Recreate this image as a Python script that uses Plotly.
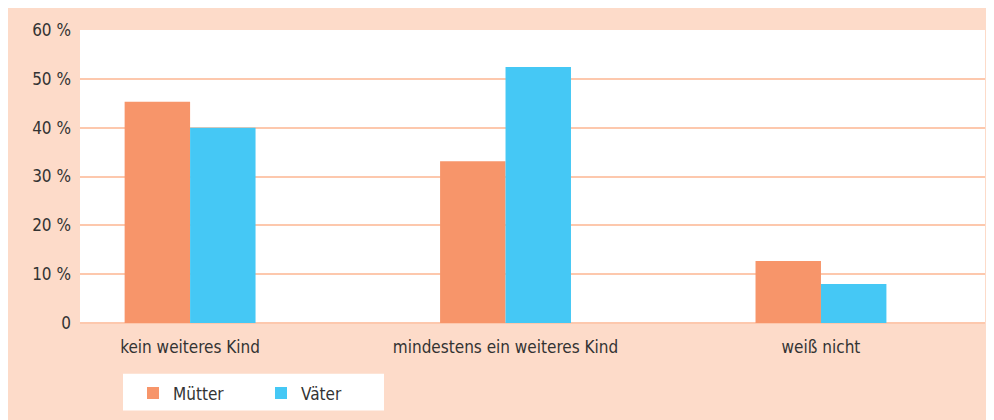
import plotly.graph_objects as go

categories = ["kein weiteres Kind", "mindestens ein weiteres Kind", "weiß nicht"]
muetter = [45.3, 33.1, 12.7]
vaeter = [40.0, 52.4, 8.0]
tick_vals = [0, 10, 20, 30, 40, 50, 60]
tick_text = ["0", "10 %", "20 %", "30 %", "40 %", "50 %", "60 %"]

W, Hh = 986, 412
L, R, T, B = 72, 9, 22, 95
PW = W - L - R
PH = Hh - T - B

def px(x):
    return (x - L) / PW

def py(y):
    return (Hh - B - y) / PH

FONT = "Liberation Sans Narrow, DejaVu Sans Condensed, Roboto, sans-serif"
TXT = "#333333"
PEACH = "#fddbc9"
GRID = "#fdc8ad"

fig = go.Figure()
fig.add_trace(go.Bar(name="Mütter", x=[0, 1, 2], y=muetter, marker_color="#f7956a",
                     marker_line_width=0))
fig.add_trace(go.Bar(name="Väter", x=[0, 1, 2], y=vaeter, marker_color="#45c8f5",
                     marker_line_width=0))

fig.update_layout(
    width=W, height=Hh,
    margin=dict(l=L, r=R, t=T, b=B),
    paper_bgcolor=PEACH,
    plot_bgcolor="white",
    barmode="group",
    bargap=0.585,
    bargroupgap=0,
    font=dict(family=FONT, size=17, color=TXT),
    showlegend=True,
    legend=dict(orientation="h", x=px(125), xanchor="left", y=py(388), yanchor="middle",
                bgcolor="rgba(0,0,0,0)", entrywidth=83, entrywidthmode="pixels",
                font=dict(family=FONT, size=17, color=TXT), itemclick=False),
    xaxis=dict(range=[-0.349, 2.52], tickvals=[0, 1, 2], ticktext=categories,
               showgrid=False, zeroline=False, showline=False, ticks="",
               ticklabelstandoff=12, fixedrange=True),
    yaxis=dict(range=[0, 60], tickvals=tick_vals, ticktext=tick_text,
               showgrid=True, gridcolor=GRID, gridwidth=2,
               zeroline=True, zerolinecolor=GRID, zerolinewidth=2,
               showline=False, ticks="", ticklabelstandoff=8, fixedrange=True),
    shapes=[
        dict(type="rect", xref="paper", yref="paper", x0=px(115), x1=px(376), y0=py(405), y1=py(368),
             fillcolor="white", line_width=0, layer="below"),
    ],
)

fig.write_html("out.html")
